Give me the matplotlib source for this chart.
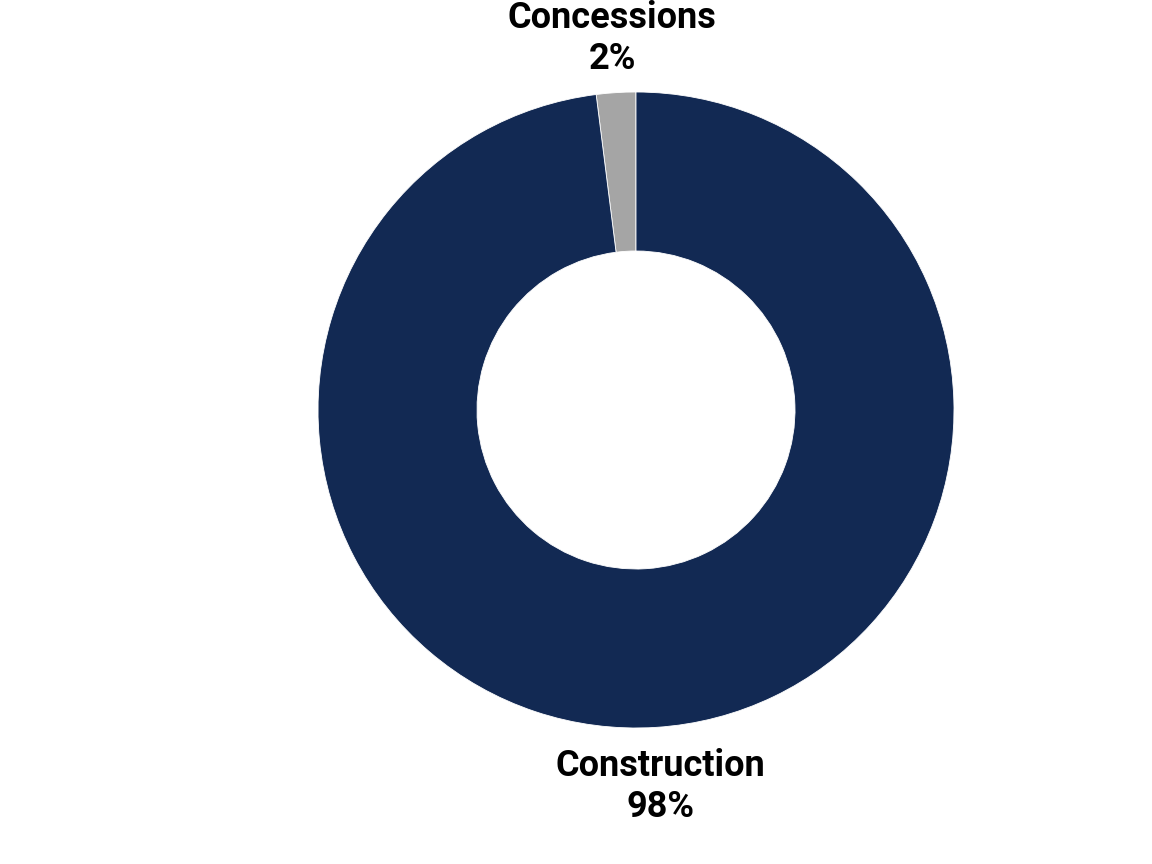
import matplotlib
matplotlib.use("Agg")
import matplotlib.pyplot as plt

categories = ["Concessions", "Construction"]
values = [2, 98]
colors = ["#A5A5A5", "#122953"]

plt.rcParams['font.family'] = ['Roboto', 'DejaVu Sans']

fig = plt.figure(figsize=(11.52, 8.64), dpi=100)
ax = fig.add_axes([0, 0, 1, 1])
R = 318.0
cx, cy = 636.0, 864 - 410.0

wedges, _ = ax.pie(values, colors=colors, startangle=90, counterclock=True,
                   radius=1.0, wedgeprops=dict(width=0.5, edgecolor='white', linewidth=0.6))
ax.set_xlim(-cx / R, (1152 - cx) / R)
ax.set_ylim(-cy / R, (864 - cy) / R)
ax.set_aspect('equal')
ax.axis('off')

label_pos = [(-0.0755, 1.168), (0.0755, -1.184)]
for cat, v, (x, y) in zip(categories, values, label_pos):
    ax.text(x, y, f"{cat}\n{v}%", ha='center', va='center', fontsize=26,
            fontweight='bold', color='black', linespacing=1.2)

fig.savefig("out.png", dpi=100)
